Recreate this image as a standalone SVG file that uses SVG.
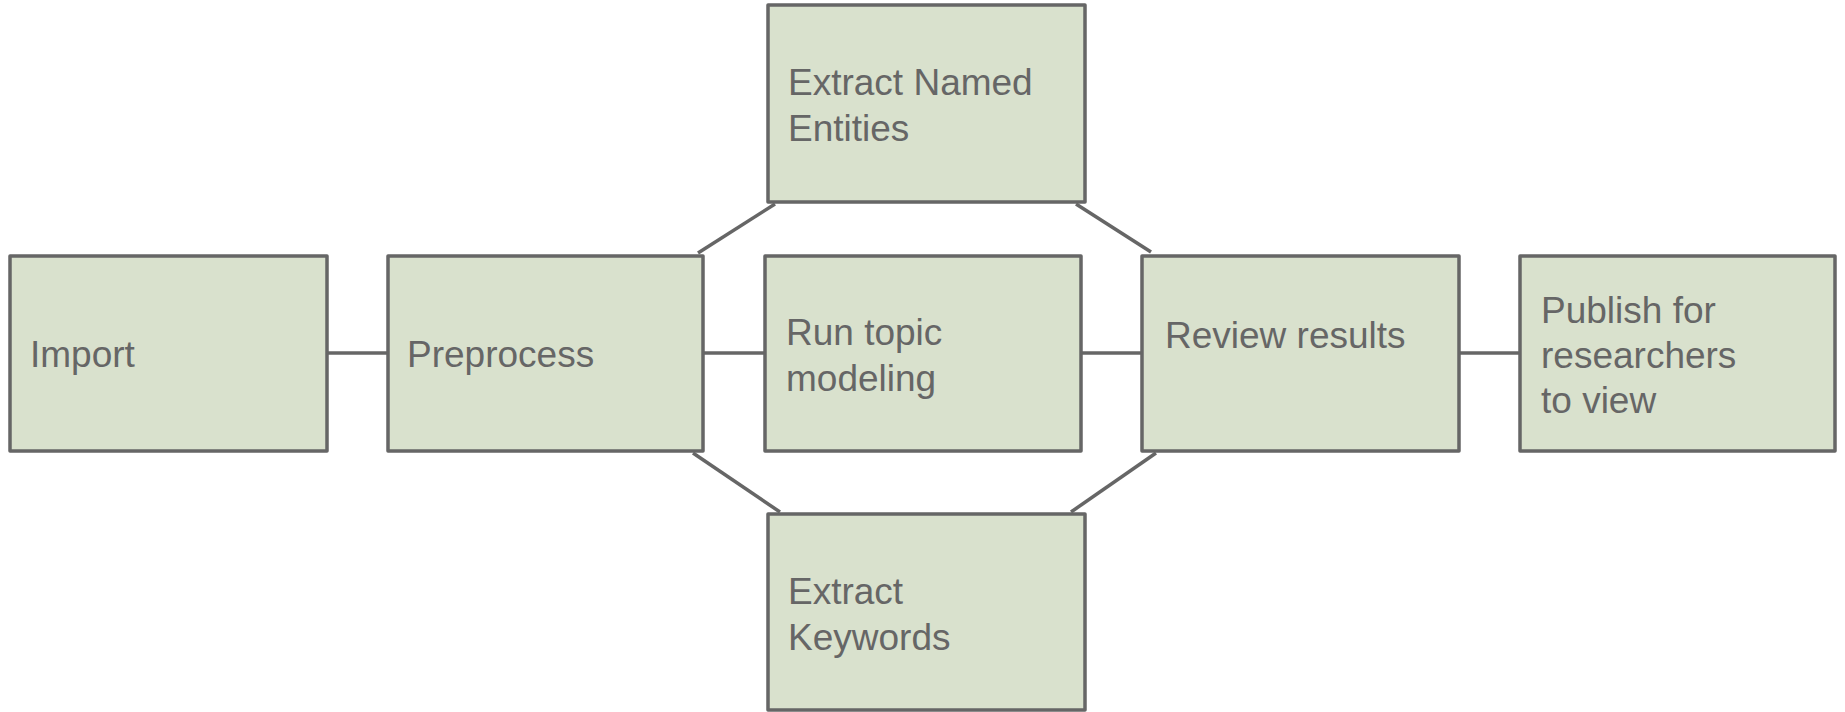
<svg xmlns="http://www.w3.org/2000/svg" width="1845" height="712" viewBox="0 0 1845 712">
<style>
.box{fill:#d9e1cd;stroke:#666666;stroke-width:3.5;stroke-linejoin:round}
.lbl{font-family:"Liberation Sans",Arial,sans-serif;font-size:37px;fill:#666666}
.con{stroke:#666666;stroke-width:3.5;fill:none}
</style>
<rect width="1845" height="712" fill="#ffffff"/>
<g id="connectors">
<line class="con" x1="327" y1="353" x2="388" y2="353"/>
<line class="con" x1="703" y1="353" x2="765" y2="353"/>
<line class="con" x1="1081" y1="353" x2="1142" y2="353"/>
<line class="con" x1="1459" y1="353" x2="1520" y2="353"/>
<line class="con" x1="698" y1="253" x2="775" y2="204"/>
<line class="con" x1="1076" y1="204" x2="1151" y2="252"/>
<line class="con" x1="693" y1="453" x2="780" y2="512"/>
<line class="con" x1="1156" y1="453" x2="1071" y2="512"/>
</g>
<g id="import">
<rect class="box" x="10" y="256" width="317" height="195"/>
<text class="lbl" x="30" y="367">Import</text>
</g>
<g id="preprocess">
<rect class="box" x="388" y="256" width="315" height="195"/>
<text class="lbl" x="407" y="367">Preprocess</text>
</g>
<g id="extract-named">
<rect class="box" x="768" y="5" width="317" height="197"/>
<text class="lbl" x="788" y="95">Extract Named</text>
<text class="lbl" x="788" y="141">Entities</text>
</g>
<g id="topic">
<rect class="box" x="765" y="256" width="316" height="195"/>
<text class="lbl" x="786" y="345">Run topic</text>
<text class="lbl" x="786" y="391">modeling</text>
</g>
<g id="extract-keywords">
<rect class="box" x="768" y="514" width="317" height="196"/>
<text class="lbl" x="788" y="604">Extract</text>
<text class="lbl" x="788" y="650">Keywords</text>
</g>
<g id="review">
<rect class="box" x="1142" y="256" width="317" height="195"/>
<text class="lbl" x="1165" y="348">Review results</text>
</g>
<g id="publish">
<rect class="box" x="1520" y="256" width="315" height="195"/>
<text class="lbl" x="1541" y="323">Publish for</text>
<text class="lbl" x="1541" y="368">researchers</text>
<text class="lbl" x="1541" y="413">to view</text>
</g>
</svg>
